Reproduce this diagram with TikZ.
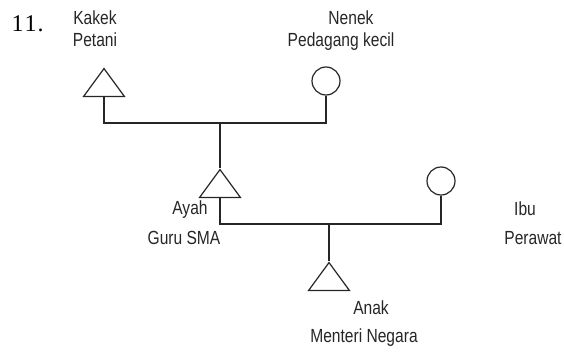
\documentclass[tikz,border=0pt]{standalone}
\usepackage{fontspec}
\setmainfont[FakeStretch=0.82]{Liberation Sans}
\newfontfamily\numfont{Liberation Serif}
\usetikzlibrary{shapes.geometric}

\begin{document}
\begin{tikzpicture}[x=1pt,y=-1pt,
	line width=1.2pt, draw=black!85,
	male/.style={draw, isosceles triangle, shape border rotate=90, isosceles triangle stretches=true, minimum width=41pt, minimum height=28pt, inner sep=0pt, anchor=north},
	female/.style={draw, circle, minimum size=28pt, inner sep=0pt},
	lbl/.style={anchor=base, inner sep=0pt, text=black!85, font=\fontsize{19}{21}\selectfont}]
	\useasboundingbox (0,0) rectangle (564,356);
	\node [anchor=base west, inner sep=0pt, font=\numfont\fontsize{24}{26}\selectfont] (num) at (11,31) {1\kern1pt1\kern1pt.};
	% generasi pertama
	\node [male] (kakek) at (104,67) {};
	\node [female] (nenek) at (326,81) {};
	\node [lbl] (kakeknama) at (95,24) {Kakek};
	\node [lbl] (kakekkerja) at (95,46) {Petani};
	\node [lbl] (neneknama) at (351,24) {Nenek};
	\node [lbl] (nenekkerja) at (341,46) {Pedagang kecil};
	\coordinate (kawin1) at (220,123);
	\path (kakek.south) edge [to path={|- (\tikztotarget)}] (kawin1);
	\path (kawin1) edge [to path={-| (\tikztotarget)}] (nenek.south);
	% generasi kedua
	\node [male] (ayah) at (220,168) {};
	\node [female] (ibu) at (441,181) {};
	\node [lbl] (ayahnama) at (190,214) {Ayah};
	\node [lbl] (ayahkerja) at (184,244) {Guru SMA};
	\node [lbl] (ibunama) at (525,215) {Ibu};
	\node [lbl] (ibukerja) at (533,244) {Perawat};
	\path (kawin1) edge (ayah.north);
	\coordinate (kawin2) at (329,224);
	\path (ayah.south) edge [to path={|- (\tikztotarget)}] (kawin2);
	\path (kawin2) edge [to path={-| (\tikztotarget)}] (ibu.south);
	% anak
	\node [male] (anak) at (329,261) {};
	\node [lbl] (anaknama) at (371,314) {Anak};
	\node [lbl] (anakkerja) at (364,342) {Menteri Negara};
	\path (kawin2) edge (anak.north);
\end{tikzpicture}
\end{document}
